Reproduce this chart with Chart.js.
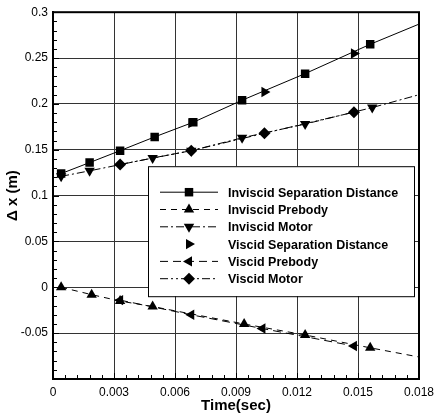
<!DOCTYPE html>
<html>
<head>
<meta charset="utf-8">
<script src="https://cdn.jsdelivr.net/npm/chart.js"></script>
<style>
  body { margin: 0; background: #fff; }
  canvas { display: block; }
</style>
</head>
<body>
<canvas id="deltaChart" width="442" height="418"></canvas>
<script>
// values (time in sec, delta x in m)
var invSepX = [0.0004, 0.0018, 0.0033, 0.0050, 0.0069, 0.0093, 0.0124, 0.0156];
var invSepY = [0.124, 0.136, 0.149, 0.164, 0.180, 0.204, 0.233, 0.265];
var invPreX = [0.0004, 0.0019, 0.0033, 0.0049, 0.0094, 0.0124, 0.0156];
var invPreY = [0.000, -0.008, -0.015, -0.021, -0.040, -0.052, -0.066];
var invMotX = [0.0004, 0.0018, 0.0049, 0.0068, 0.0093, 0.0124, 0.0157];
var invMotY = [0.121, 0.127, 0.141, 0.149, 0.163, 0.178, 0.196];
var visSepX = [0.0068, 0.0104, 0.0148];
var visSepY = [0.179, 0.213, 0.255];
var visPreX = [0.0033, 0.0068, 0.0103, 0.0148];
var visPreY = [-0.014, -0.030, -0.045, -0.064];
var visMotX = [0.0033, 0.0068, 0.0104, 0.0148];
var visMotY = [0.134, 0.149, 0.168, 0.191];

// where the fitted inviscid curves meet the right edge
var curveEndX = 0.018;
var invSepEnd = 0.287;
var invPreEnd = -0.076;
var invMotEnd = 0.210;

var xTicks = [0, 0.003, 0.006, 0.009, 0.012, 0.015, 0.018];
var yTicks = [-0.1, -0.05, 0, 0.05, 0.1, 0.15, 0.2, 0.25, 0.3];

function pts(xs, ys, endY) {
    var out = xs.map(function (x, i) { return {x: x, y: ys[i]}; });
    if (endY !== undefined) out.push({x: curveEndX, y: endY, end: true});
    return out;
}

function mk(label, data, style, rot, size, dash, line) {
    return {
        label: label,
        data: data,
        showLine: line,
        borderColor: '#000',
        backgroundColor: '#000',
        borderWidth: 1,
        borderDash: dash,
        pointStyle: style,
        rotation: rot,
        pointRadius: function (c) { return c.raw && c.raw.end ? 0 : size; },
        pointHoverRadius: 0,
        pointBorderWidth: 0,
        _dash: dash,
        _size: size,
        _line: line
    };
}

var datasets = [
    mk('Inviscid Separation Distance', pts(invSepX, invSepY, invSepEnd), 'rect', 0, 6, [], true),
    mk('Inviscid Prebody', pts(invPreX, invPreY, invPreEnd), 'triangle', 0, 6, [6, 5], true),
    mk('Inviscid Motor', pts(invMotX, invMotY, invMotEnd), 'triangle', 180, 6, [8, 3, 2, 3], true),
    mk('Viscid Separation Distance', pts(visSepX, visSepY), 'triangle', 90, 6, [], false),
    mk('Viscid Prebody', pts(visPreX, visPreY), 'triangle', 270, 6, [8, 5], true),
    mk('Viscid Motor', pts(visMotX, visMotY), 'rectRot', 0, 6, [8, 3, 2, 3, 2, 3], true)
];

function fmt(v) {
    return String(Number(v.toFixed(4)));
}

// frame, inner minor ticks and the boxed legend
var decor = {
    id: 'decor',
    afterDatasetsDraw: function (chart) {
        var ctx = chart.ctx, a = chart.chartArea;
        var xs = chart.scales.x, ys = chart.scales.y;
        ctx.save();
        ctx.strokeStyle = '#000';
        ctx.lineWidth = 1;
        ctx.setLineDash([]);
        ctx.beginPath();
        for (var i = 0; i <= 40; i++) {
            var py = Math.round(ys.getPixelForValue(-0.1 + i * 0.01)) + 0.5;
            var len = i % 5 === 0 ? 6 : 4;
            ctx.moveTo(a.left, py); ctx.lineTo(a.left + len, py);
        }
        for (var j = 0; j <= 30; j++) {
            var px = Math.round(xs.getPixelForValue(j * 0.0006)) + 0.5;
            var l2 = j % 5 === 0 ? 6 : 4;
            ctx.moveTo(px, a.bottom); ctx.lineTo(px, a.bottom - l2);
        }
        ctx.stroke();
        ctx.lineWidth = 2;
        ctx.strokeRect(a.left, a.top, a.right - a.left, a.bottom - a.top);

        // legend box
        var bx = a.left + 95, by = a.top + 154, bw = 266, bh = 130;
        ctx.fillStyle = '#fff';
        ctx.fillRect(bx, by, bw, bh);
        ctx.lineWidth = 1;
        ctx.strokeRect(bx + 0.5, by + 0.5, bw, bh);
        ctx.font = 'bold 12.5px "Liberation Sans", Arial, sans-serif';
        ctx.textBaseline = 'middle';
        chart.data.datasets.forEach(function (ds, k) {
            var ry = by + 26 + k * 17.3;
            if (ds._line) {
                ctx.setLineDash(ds._dash);
                ctx.beginPath();
                ctx.moveTo(bx + 12, ry); ctx.lineTo(bx + 70, ry);
                ctx.stroke();
                ctx.setLineDash([]);
            }
            ctx.fillStyle = '#000';
            Chart.helpers.drawPoint(ctx, {pointStyle: ds.pointStyle, rotation: ds.rotation, radius: ds._size, borderWidth: 0}, bx + 41, ry);
            ctx.fillText(ds.label, bx + 80, ry + 1);
        });
        ctx.restore();
    }
};

var myChart = new Chart(document.getElementById('deltaChart'), {
    type: 'scatter',
    data: { datasets: datasets },
    options: {
        responsive: false,
        animation: false,
        layout: { padding: { top: 11, right: 23, left: 0, bottom: 0 } },
        plugins: { legend: { display: false }, tooltip: { enabled: false } },
        scales: {
            x: {
                type: 'linear',
                min: 0, max: 0.018,
                afterFit: function (s) { s.height = 39; },
                afterBuildTicks: function (s) { s.ticks = xTicks.map(function (v) { return {value: v}; }); },
                grid: { color: '#333', lineWidth: 1, drawTicks: false },
                border: { color: '#000', width: 2 },
                ticks: {
                    padding: 6, color: '#000',
                    font: { family: '"Liberation Sans", Arial, sans-serif', size: 12 },
                    maxRotation: 0,
                    callback: function (v) { return fmt(v); }
                },
                title: {
                    display: true, text: 'Time(sec)', color: '#000',
                    font: { family: '"Liberation Sans", Arial, sans-serif', size: 15, weight: 'bold' },
                    padding: { top: 0, bottom: 3 }
                }
            },
            y: {
                type: 'linear',
                min: -0.1, max: 0.3,
                afterFit: function (s) { s.width = 53; },
                afterBuildTicks: function (s) { s.ticks = yTicks.map(function (v) { return {value: v}; }); },
                grid: { color: '#333', lineWidth: 1, drawTicks: false },
                border: { color: '#000', width: 2 },
                ticks: {
                    padding: 5, color: '#000',
                    font: { family: '"Liberation Sans", Arial, sans-serif', size: 12 },
                    callback: function (v) { return v === -0.1 ? '' : fmt(v); }
                },
                title: {
                    display: true, text: 'Δ x (m)', color: '#000',
                    font: { family: '"Liberation Sans", Arial, sans-serif', size: 15, weight: 'bold' },
                    padding: { top: 4, bottom: 0 }
                }
            }
        }
    },
    plugins: [decor]
});
</script>
</body>
</html>
